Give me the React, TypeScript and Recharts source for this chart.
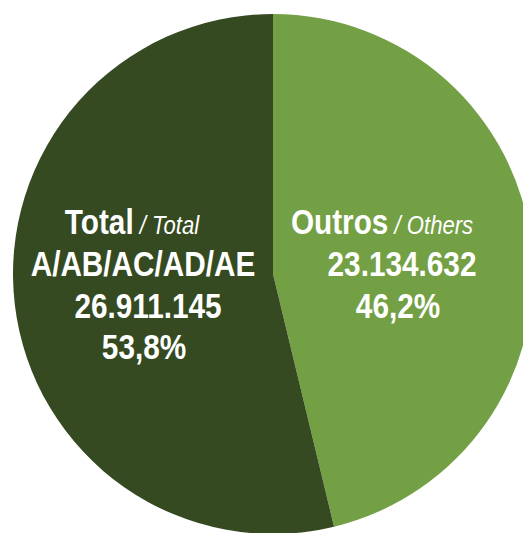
import React from "react";
import { PieChart, Pie, Cell } from "recharts";

const names = ["Outros", "Total"];
const subNames = ["Others", "Total"];
const extraLines = ["", "A/AB/AC/AD/AE"];
const values = [23134632, 26911145];
const percents = ["46,2%", "53,8%"];
const colors = ["#739f45", "#354a21"];

const data = names.map((name, i) => ({ name, value: values[i] }));

const fmt = (n: number) => n.toString().replace(/\B(?=(\d{3})+(?!\d))/g, ".");

const FONT = "'Liberation Sans', Arial, sans-serif";
const NARROW = 0.85;

// Arial Narrow look-alike: squeeze Liberation Sans horizontally
const Narrow = ({ x, y, children }: { x: number; y: number; children: React.ReactNode }) => (
  <text
    transform={`translate(${x},${y}) scale(${NARROW},1)`}
    textAnchor="middle"
    fontFamily={FONT}
    fontWeight={700}
    fontSize={35}
    fill="#ffffff"
  >
    {children}
  </text>
);

const small = { fontStyle: "italic", fontWeight: 400, fontSize: 26 } as const;

const renderLabel = (props: any) => {
  const { cx, cy, index } = props;
  if (index === 0) {
    return (
      <g>
        <Narrow x={cx + 109} y={cy - 40}>
          {names[0]}
          <tspan {...small}> / {subNames[0]}</tspan>
        </Narrow>
        <Narrow x={cx + 129} y={cy + 2}>{fmt(values[0])}</Narrow>
        <Narrow x={cx + 125} y={cy + 44}>{percents[0]}</Narrow>
      </g>
    );
  }
  return (
    <g>
      <Narrow x={cx - 141} y={cy - 40}>
        {names[1]}
        <tspan {...small}> / {subNames[1]}</tspan>
      </Narrow>
      <Narrow x={cx - 130} y={cy + 2}>{extraLines[1]}</Narrow>
      <Narrow x={cx - 125} y={cy + 44}>{fmt(values[1])}</Narrow>
      <Narrow x={cx - 129} y={cy + 85}>{percents[1]}</Narrow>
    </g>
  );
};

export default function App() {
  return (
    <div style={{ position: "absolute", left: 0, top: 0, width: 523, height: 533, overflow: "hidden", background: "#fff" }}>
      <PieChart width={523} height={533} margin={{ top: 0, right: 0, bottom: 0, left: 0 }}>
        <Pie
          data={data}
          dataKey="value"
          cx={273}
          cy={274}
          outerRadius={260}
          startAngle={90}
          endAngle={-270}
          stroke="none"
          label={renderLabel}
          labelLine={false}
          isAnimationActive={false}
        >
          {data.map((d, i) => (
            <Cell key={d.name} fill={colors[i]} />
          ))}
        </Pie>
      </PieChart>
    </div>
  );
}
